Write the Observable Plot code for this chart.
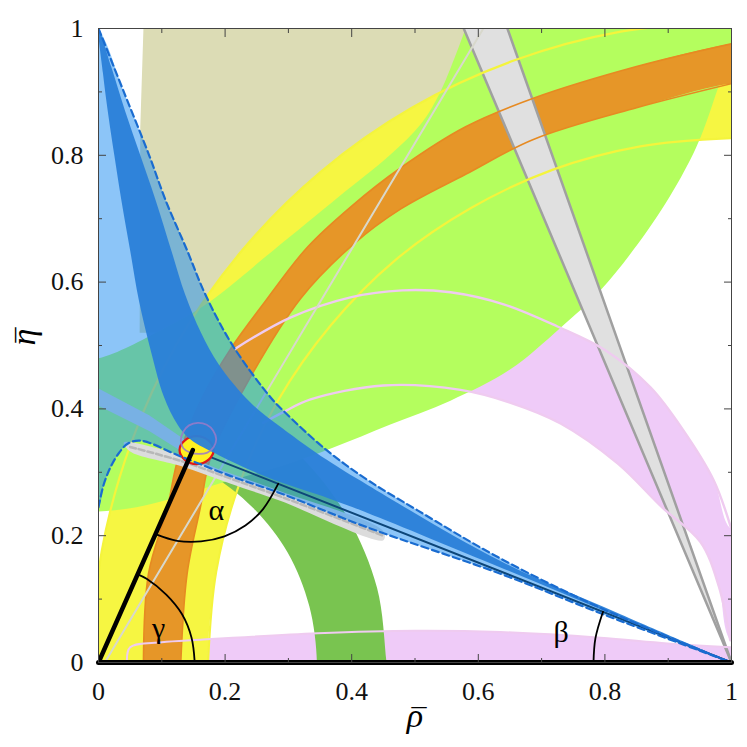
<!DOCTYPE html>
<html><head><meta charset="utf-8">
<script src="https://cdn.jsdelivr.net/npm/d3@7"></script>
<script src="https://cdn.jsdelivr.net/npm/@observablehq/plot@0.6"></script>
<style>
body{margin:0;background:#fff}
#chart svg{display:block}
</style>
</head><body><div id="chart"></div>
<script>
// ---- tick values and titles ----
const majorTicks = [0, 0.2, 0.4, 0.6, 0.8, 1];
const minorTicks = [0.1, 0.3, 0.5, 0.7, 0.9];
const xTitle = "ρ";
const yTitle = "η";
const titleBar = "¯";

// ---- constraint regions (boundary points, rho/eta coordinates) ----
const pinkBottomTop = [[0.045,0.0],[0.05,0.024],[0.1,0.032],[0.161,0.036],[0.346,0.046],[0.5,0.05],[0.635,0.048],[0.793,0.039],[0.899,0.03],[1,0.024]];
const pinkArcInner = [[0.26,0.378],[0.292,0.395],[0.335,0.415],[0.45,0.437],[0.572,0.43],[0.65,0.41],[0.73,0.377],[0.82,0.314],[0.89,0.245],[0.951,0.19],[0.98,0.12],[0.998,0.035]];
const pinkArcOuter = [[0.216,0.495],[0.303,0.544],[0.398,0.576],[0.48,0.587],[0.556,0.584],[0.64,0.565],[0.725,0.53],[0.8,0.493],[0.872,0.434],[0.924,0.366],[0.972,0.287],[1.0,0.21]];
const tanOutline = [[0.071,1.05],[0.7,1.05],[0.7,1],[0.5,0.8],[0.3,0.62],[0.15,0.52],[0.065,0.52],[0.066,0.844],[0.071,1]];
const yellowOuter = [[-0.01,0],[0.005,0.175],[0.051,0.345],[0.125,0.505],[0.226,0.649],[0.351,0.774],[0.495,0.875],[0.655,0.949],[0.825,0.995],[1,1.01]];
const yellowInner = [[0.173,0],[0.186,0.144],[0.223,0.283],[0.284,0.414],[0.367,0.532],[0.468,0.634],[0.587,0.716],[0.717,0.777],[0.856,0.814],[1,0.827]];
const ringOuter = [[0.455,0],[0.44,0.118],[0.394,0.228],[0.322,0.322],[0.228,0.394],[0.118,0.44],[0,0.455]];
const ringInner = [[0.345,0],[0.333,0.089],[0.299,0.173],[0.244,0.244],[0.173,0.299],[0.089,0.333],[0,0.345]];
const greenUpper = [[0,0.48],[0.1,0.525],[0.17,0.565],[0.276,0.65],[0.38,0.735],[0.46,0.8],[0.51,0.85],[0.54,0.9],[0.565,0.96],[0.58,1]];
const greenLower = [[0,0.238],[0.06,0.245],[0.12,0.26],[0.2,0.285],[0.29,0.31],[0.371,0.339],[0.46,0.375],[0.556,0.413],[0.65,0.462],[0.73,0.528],[0.793,0.587],[0.867,0.681],[0.92,0.765],[0.951,0.828],[0.983,0.918],[1,0.96]];
const orangeUpper = [[0.071,0],[0.079,0.14],[0.109,0.245],[0.126,0.323],[0.165,0.42],[0.209,0.495],[0.26,0.565],[0.33,0.655],[0.4,0.72],[0.477,0.78],[0.58,0.845],[0.687,0.89],[0.85,0.94],[1,0.976]];
const orangeLower = [[0.13,0],[0.14,0.14],[0.161,0.245],[0.177,0.323],[0.24,0.45],[0.32,0.575],[0.403,0.66],[0.477,0.715],[0.58,0.77],[0.687,0.825],[0.85,0.875],[1,0.913]];
const wedgeLeft = [[0.577,1],[1,0]];
const wedgeRight = [[0.646,1],[1,0]];
const gammaLine = [[0.01,0],[0.608,1]];
const greyBandUpper = [[0.04,0.347],[0.13,0.327],[0.209,0.298],[0.287,0.27],[0.45,0.207]];
const greyBandLower = [[0.05,0.333],[0.13,0.31],[0.209,0.282],[0.287,0.255],[0.45,0.193]];
const greyBandMid = [[0.05,0.34],[0.13,0.318],[0.209,0.29],[0.287,0.262],[0.45,0.2]];
const greyBand2Upper = [[0,0.432],[0.08,0.39],[0.16,0.335]];
const greyBand2Lower = [[0,0.405],[0.08,0.365],[0.16,0.315]];
const blueOuterDash = [[0,1],[0.04,0.9],[0.08,0.8],[0.106,0.729],[0.14,0.65],[0.169,0.58],[0.212,0.5],[0.272,0.418],[0.292,0.397],[0.359,0.336],[0.425,0.288],[0.504,0.24],[0.635,0.164],[0.8,0.083],[1,0]];
const blueInnerDash = [[0,0.245],[0.008,0.28],[0.019,0.308],[0.032,0.33],[0.046,0.345],[0.066,0.35],[0.13,0.325],[0.209,0.294],[0.287,0.267],[0.425,0.213],[0.635,0.14],[0.8,0.075],[1,0]];
const darkBandLeft = [[0,1],[0.007,0.93],[0.016,0.86],[0.025,0.8],[0.036,0.73],[0.05,0.65],[0.064,0.57],[0.083,0.49],[0.103,0.42],[0.125,0.375],[0.145,0.352],[0.19,0.327],[0.267,0.292],[0.366,0.258],[0.425,0.236],[0.635,0.15],[0.82,0.073],[1,0]];
const darkBandRight = [[0,1],[0.02,0.94],[0.042,0.87],[0.066,0.8],[0.09,0.73],[0.115,0.65],[0.137,0.58],[0.162,0.52],[0.19,0.47],[0.24,0.41],[0.29,0.37],[0.36,0.32],[0.425,0.28],[0.635,0.16],[0.82,0.078],[1,0]];
const fitRed = [[0.182,0.335],[0.174,0.35],[0.155,0.357],[0.136,0.35],[0.128,0.335],[0.136,0.32],[0.155,0.313],[0.174,0.32]];
const fitPurple = [[0.186,0.352],[0.181,0.366],[0.171,0.375],[0.157,0.378],[0.143,0.374],[0.134,0.364],[0.13,0.35],[0.134,0.338],[0.145,0.331],[0.158,0.329],[0.172,0.331],[0.182,0.34]];

// ---- unitarity triangle and angles ----
const triangle = [[0,0],[0.149,0.335],[1,0]];
const gammaArc = [[0.152,0],[0.147,0.039],[0.132,0.076],[0.107,0.107],[0.076,0.132],[0.062,0.139]];
const alphaArc = [[0.090,0.2025],[0.124,0.192],[0.162,0.191],[0.199,0.199],[0.232,0.216],[0.260,0.242],[0.284,0.282]];
const betaArc = [[0.782,0],[0.785,0.038],[0.797,0.080]];
const angleNames = ["α","β","γ"];
const angleX = [0.186, 0.731, 0.095];
const angleY = [0.24, 0.047, 0.054];

// ---- helpers ----
const rows = a => a.map(([x, y]) => ({x, y}));
const rev = a => a.slice().reverse();
const poly = (outline, o) => Plot.line(rows(outline), {x: "x", y: "y", curve: "catmull-rom-closed", stroke: "none", clip: true, ...o});
const path = (pts, o) => Plot.line(rows(pts), {x: "x", y: "y", curve: "catmull-rom", fill: "none", clip: true, ...o});

const serif = "Liberation Serif, DejaVu Serif, serif";
const angles = angleNames.map((t, i) => ({t, x: angleX[i], y: angleY[i]}));
const noText = () => "";
const txt = d => d;

const chart = Plot.plot({
  width: 747, height: 747,
  marginLeft: 98, marginRight: 16, marginTop: 28, marginBottom: 85,
  x: {domain: [0, 1], label: null},
  y: {domain: [0, 1], label: null},
  style: {background: "white", color: "#222", fontFamily: serif},
  marks: [
    poly(pinkBottomTop.concat([[1.05,0.024],[1.05,-0.05],[0.045,-0.05]]), {fill: "#efcbf8"}),
    poly(pinkArcInner.slice(3).concat([[1.05,0.0],[1.05,0.21]], rev(pinkArcOuter.slice(3))), {fill: "#efcbf8"}),
    poly(tanOutline, {fill: "#dcdcb5", curve: "linear-closed"}),
    poly([[-0.02,-0.05]].concat(yellowOuter, [[1.05,1.01],[1.05,0.827]], rev(yellowInner), [[0.18,-0.05]]), {fill: "#f6f642"}),
    poly([[0.46,-0.05]].concat(ringOuter, [[-0.05,0.455],[-0.05,0.345]], rev(ringInner), [[0.34,-0.05]]), {fill: "#79c450"}),
    poly([[-0.05,0.48]].concat(greenUpper, [[0.6,1.05],[1.05,1.05],[1.05,0.97]], rev(greenLower), [[-0.05,0.238]]), {fill: "#b4fe5e"}),
    poly(orangeUpper.concat([[1.05,0.98],[1.05,0.91]], rev(orangeLower), [[0.13,-0.05],[0.07,-0.05]]), {fill: "#e69628"}),
    poly([[0.577,1],[0.646,1],[1,0]], {fill: "#e0e0e0", curve: "linear-closed"}),
    path(wedgeLeft, {stroke: "#a0a0a0", strokeWidth: 2.5, curve: "linear"}),
    path(wedgeRight, {stroke: "#a0a0a0", strokeWidth: 2.5, curve: "linear"}),
    path(yellowOuter, {stroke: "#f4f43c", strokeWidth: 2.2}),
    path(yellowInner, {stroke: "#f4f43c", strokeWidth: 2.2}),
    path(orangeUpper, {stroke: "#e68a22", strokeWidth: 1.6}),
    path(orangeLower, {stroke: "#e68a22", strokeWidth: 1.6}),
    path(pinkArcOuter, {stroke: "#efcbf0", strokeWidth: 2.4}),
    path(pinkArcInner, {stroke: "#efcbf0", strokeWidth: 2.4}),
    path(pinkBottomTop, {stroke: "#efcbf0", strokeWidth: 2}),
    path(gammaLine, {stroke: "#d8d8cc", strokeWidth: 2, curve: "linear"}),
    poly(greyBand2Upper.concat(rev(greyBand2Lower)), {fill: "#d6d6d6", curve: "linear-closed"}),
    poly(greyBandUpper.concat(rev(greyBandLower)), {fill: "#dcdcdc"}),
    path(greyBandMid, {stroke: "#b8b8b8", strokeWidth: 2.5, strokeDasharray: "6,3"}),
    path([triangle[1], triangle[2]], {stroke: "#000", strokeWidth: 2, curve: "linear"}),
    poly(blueOuterDash.concat(rev(blueInnerDash).slice(1), [[-0.05,0.2],[-0.05,1.05]]), {fill: "#1a8cf2", fillOpacity: 0.5}),
    poly(fitRed, {fill: "#fff020", stroke: "#e01818", strokeWidth: 2.2}),
    poly(darkBandLeft.concat(rev(darkBandRight).slice(1, -1)), {fill: "#2a80d8", fillOpacity: 0.95}),
    path(blueOuterDash, {stroke: "#1a6cd0", strokeWidth: 2.2, strokeDasharray: "7,4"}),
    path(blueInnerDash, {stroke: "#1a6cd0", strokeWidth: 2.2, strokeDasharray: "7,4"}),
    poly(fitPurple, {fill: "none", stroke: "#9a7ac8", strokeWidth: 1.8, strokeOpacity: 0.85}),
    path([triangle[0], triangle[1]], {stroke: "#000", strokeWidth: 4.5, curve: "linear"}),
    path([triangle[0], triangle[2]], {stroke: "#000", strokeWidth: 5, curve: "linear", clip: false}),
    path(gammaArc, {stroke: "#000", strokeWidth: 1.8}),
    path(alphaArc, {stroke: "#000", strokeWidth: 1.8}),
    path(betaArc, {stroke: "#000", strokeWidth: 1.8}),
    Plot.text(angles, {x: "x", y: "y", text: "t", fontSize: 30, fill: "#000"}),
    Plot.frame({stroke: "#444", strokeWidth: 1}),
    Plot.axisX({ticks: majorTicks, tickSize: 0, tickPadding: 19, fontSize: 26, label: null, tickFormat: d => String(d), fill: "#111"}),
    Plot.axisY({ticks: majorTicks, tickSize: 0, tickPadding: 15, fontSize: 26, label: null, tickFormat: d => String(d), fill: "#111"}),
    Plot.axisX({ticks: majorTicks, tickSize: -8, label: null, tickFormat: noText, stroke: "#444"}),
    Plot.axisX({ticks: minorTicks, tickSize: -4, label: null, tickFormat: noText, stroke: "#444"}),
    Plot.axisX({anchor: "top", ticks: majorTicks, tickSize: -8, label: null, tickFormat: noText, stroke: "#444"}),
    Plot.axisX({anchor: "top", ticks: minorTicks, tickSize: -4, label: null, tickFormat: noText, stroke: "#444"}),
    Plot.axisY({ticks: majorTicks, tickSize: -8, label: null, tickFormat: noText, stroke: "#444"}),
    Plot.axisY({ticks: minorTicks, tickSize: -4, label: null, tickFormat: noText, stroke: "#444"}),
    Plot.axisY({anchor: "right", ticks: majorTicks, tickSize: -8, label: null, tickFormat: noText, stroke: "#444"}),
    Plot.axisY({anchor: "right", ticks: minorTicks, tickSize: -4, label: null, tickFormat: noText, stroke: "#444"}),
    Plot.text([xTitle], {frameAnchor: "bottom", dy: 64, text: txt, fontSize: 34, fontStyle: "italic", fill: "#000"}),
    Plot.text([titleBar], {frameAnchor: "bottom", dy: 66, dx: 4, text: txt, fontSize: 30, fill: "#000"}),
    Plot.text([yTitle], {frameAnchor: "left", dx: -74, rotate: -90, text: txt, fontSize: 34, fontStyle: "italic", fill: "#000"}),
    Plot.text([titleBar], {frameAnchor: "left", dx: -71, dy: -3, rotate: -90, text: txt, fontSize: 30, fill: "#000"})
  ]
});
document.getElementById("chart").appendChild(chart);
</script>
</body></html>
